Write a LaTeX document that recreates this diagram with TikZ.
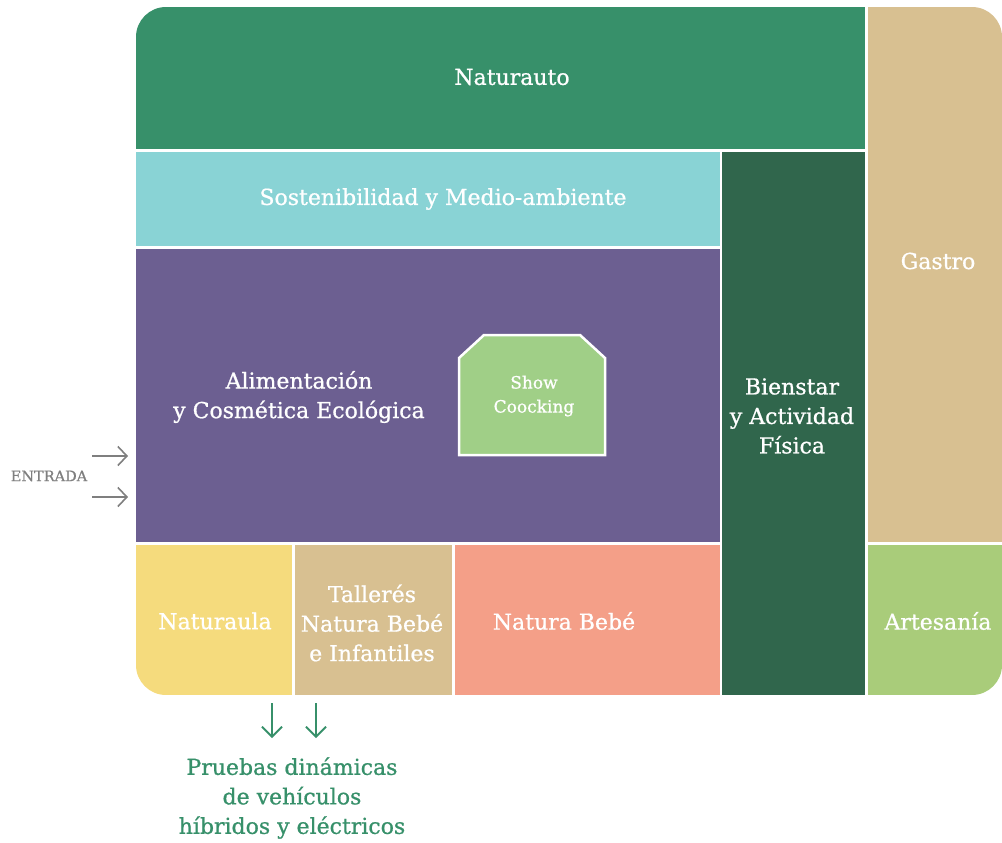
\documentclass[tikz,border=0pt]{standalone}
\usepackage{fontspec}
\setmainfont{DejaVu Serif}
\newfontfamily\medio[FakeBold=0.8]{DejaVu Serif}
\usetikzlibrary{arrows.meta}

\definecolor{verdeauto}{HTML}{37906A}
\definecolor{gastro}{HTML}{D8C091}
\definecolor{sosten}{HTML}{89D3D5}
\definecolor{bienestar}{HTML}{30664C}
\definecolor{alimento}{HTML}{6C5F91}
\definecolor{showcook}{HTML}{A0CF87}
\definecolor{aula}{HTML}{F5DB7D}
\definecolor{bebe}{HTML}{F49F88}
\definecolor{artesania}{HTML}{A9CC7A}
\definecolor{gris}{HTML}{7F7F7F}

\begin{document}
\begin{tikzpicture}[x=1pt,y=-1pt,
  zona/.style={fill=#1,draw=none,inner sep=0pt,anchor=north west},
  rotulo/.style={text=white,align=center,inner sep=0pt,font=\medio\fontsize{22}{29.5}\selectfont},
  entra/.style={draw=gris,line width=1.6pt,-{Straight Barb[length=9pt,width=19pt]}},
  prueba/.style={draw=verdeauto,line width=1.8pt,-{Straight Barb[length=10pt,width=20pt]}}]
\useasboundingbox (0,0) rectangle (1002,843);

% recinto
\begin{scope}
\clip[rounded corners=30pt] (136,7) rectangle (1002,695);
\node[zona=verdeauto,minimum width=729pt,minimum height=142pt] (naturauto) at (136,7) {};
\node[zona=gastro,minimum width=134pt,minimum height=535pt] (gastro) at (868,7) {};
\node[zona=sosten,minimum width=584pt,minimum height=94pt] (sostenibilidad) at (136,152) {};
\node[zona=bienestar,minimum width=143pt,minimum height=543pt] (bienestar) at (722,152) {};
\node[zona=alimento,minimum width=584pt,minimum height=293pt] (alimentacion) at (136,249) {};
\node[zona=aula,minimum width=156pt,minimum height=150pt] (naturaula) at (136,545) {};
\node[zona=gastro,minimum width=157pt,minimum height=150pt] (talleres) at (295,545) {};
\node[zona=bebe,minimum width=265pt,minimum height=150pt] (naturabebe) at (455,545) {};
\node[zona=artesania,minimum width=134pt,minimum height=150pt] (artesania) at (868,545) {};
\end{scope}

% show cooking
\draw[white,line width=2.5pt,fill=showcook] (459,358) -- (484,335) -- (580,335) -- (605,358) -- (605,455) -- (459,455) -- cycle;

\node[rotulo] (t-naturauto) at (512,77) {Naturauto};
\node[rotulo] (t-sostenibilidad) at (443,199) {Sostenibilidad y Medio-ambiente};
\node[rotulo] (t-gastro) at (938,261) {Gastro};
\node[rotulo] (t-alimentacion) at (299,397) {Alimentación\\y Cosmética Ecológica};
\node[rotulo,font=\medio\fontsize{17}{24}\selectfont] (t-show) at (534,396) {Show\\Coocking};
\node[rotulo] (t-bienestar) at (792,416) {Bienstar\\y Actividad\\Física};
\node[rotulo] (t-naturaula) at (215,621) {Naturaula};
\node[rotulo] (t-talleres) at (372,623) {Tallerés\\Natura Bebé\\e Infantiles};
\node[rotulo] (t-naturabebe) at (564,621) {Natura Bebé};
\node[rotulo] (t-artesania) at (938,621) {Artesanía};

% entrada
\node[text=gris,inner sep=0pt,font=\medio\fontsize{14.5}{16}\selectfont] (entrada) at (49,476) {ENTRADA};
\coordinate (e1) at (92,456);
\coordinate (e2) at (92,497);
\draw[entra] (e1) -- (128,456);
\draw[entra] (e2) -- (128,497);

% pruebas
\coordinate (p1) at (272,703);
\coordinate (p2) at (316,703);
\draw[prueba] (p1) -- (272,738);
\draw[prueba] (p2) -- (316,738);
\node[rotulo,text=verdeauto] (t-pruebas) at (292,798) {Pruebas dinámicas\\de vehículos\\híbridos y eléctricos};

\end{tikzpicture}
\end{document}
